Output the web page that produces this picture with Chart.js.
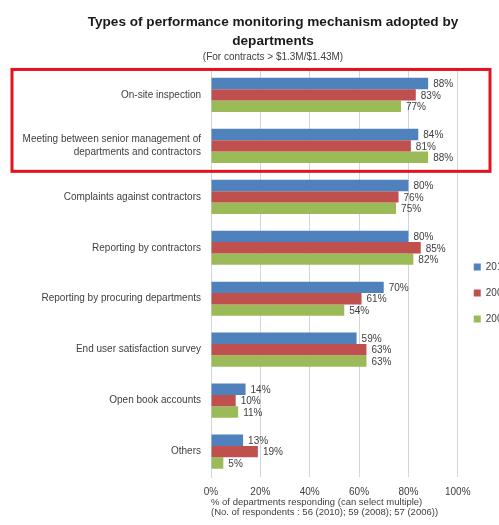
<!DOCTYPE html>
<html>
<head>
<meta charset="utf-8">
<script src="https://cdn.jsdelivr.net/npm/chart.js@4"></script>
<style>
  html, body { margin: 0; padding: 0; background: #fff; overflow: hidden; }
</style>
</head>
<body>
<canvas id="chart" width="518" height="525" style="width:518px;height:525px"></canvas>
<script>
const categories = [
  'On-site inspection',
  ['Meeting between senior management of', 'departments and contractors'],
  'Complaints against contractors',
  'Reporting by contractors',
  'Reporting by procuring departments',
  'End user satisfaction survey',
  'Open book accounts',
  'Others'
];
const years = ['2010', '2008', '2006'];
const values2010 = [88, 84, 80, 80, 70, 59, 14, 13];
const values2008 = [83, 81, 76, 85, 61, 63, 10, 19];
const values2006 = [77, 88, 75, 82, 54, 63, 11, 5];
const xTicks = [0, 20, 40, 60, 80, 100];

const txt = '#404040';
const fam = '"Liberation Sans", Arial, sans-serif';

// percent labels at the end of each bar
const barLabels = {
  id: 'barLabels',
  afterDatasetsDraw(chart) {
    const ctx = chart.ctx;
    ctx.save();
    ctx.font = '10px ' + fam;
    ctx.fillStyle = txt;
    ctx.textAlign = 'left';
    ctx.textBaseline = 'middle';
    chart.data.datasets.forEach((ds, i) => {
      chart.getDatasetMeta(i).data.forEach((bar, j) => {
        ctx.fillText(ds.data[j] + '%', bar.x + 5, bar.y + 1);
      });
    });
    ctx.restore();
  }
};

// the heading sits a little right of the canvas middle
const shiftTitles = {
  id: 'shiftTitles',
  afterLayout(chart) {
    chart.boxes.forEach(b => {
      if (b.position === 'top' && !('axis' in b)) {
        b.left += 14;
        b.right += 14;
      }
    });
  }
};

// red highlight box round the first two categories
const highlight = {
  id: 'highlight',
  afterDraw(chart) {
    const y = chart.scales.y;
    const band = (y.bottom - y.top) / categories.length;
    const top = y.getPixelForValue(0) - band / 2;
    const bottom = y.getPixelForValue(1) + band / 2;
    const ctx = chart.ctx;
    ctx.save();
    ctx.strokeStyle = '#e3121c';
    ctx.lineWidth = 3;
    ctx.strokeRect(12, top, 478, bottom - top);
    ctx.restore();
  }
};

new Chart(document.getElementById('chart'), {
  type: 'bar',
  data: {
    labels: categories,
    datasets: [
      { label: years[0], data: values2010, backgroundColor: '#4F81BD' },
      { label: years[1], data: values2008, backgroundColor: '#C0504D' },
      { label: years[2], data: values2006, backgroundColor: '#9BBB59' }
    ]
  },
  options: {
    indexAxis: 'y',
    responsive: false,
    devicePixelRatio: 1,
    animation: false,
    layout: { padding: { left: 0, right: 0, top: 0, bottom: 8 } },
    datasets: {
      bar: { barPercentage: 1, categoryPercentage: 0.67 }
    },
    scales: {
      x: {
        min: 0,
        max: 100,
        afterBuildTicks: (scale) => { scale.ticks = xTicks.map(v => ({ value: v })); },
        ticks: {
          callback: (v) => v + '%',
          color: txt,
          font: { family: fam, size: 10 },
          padding: 9
        },
        grid: { color: '#cfd6e0', drawTicks: false },
        border: { display: false },
        title: {
          display: true,
          text: ['% of departments responding (can select multiple)', '(No. of respondents : 56 (2010); 59 (2008); 57 (2006))'],
          align: 'start',
          color: txt,
          font: { family: fam, size: 9.5, lineHeight: 1.05 },
          padding: { top: -10, bottom: 0 }
        }
      },
      y: {
        afterFit: (scale) => { scale.width = 211; },
        ticks: {
          color: txt,
          font: { family: fam, size: 10, lineHeight: 1.3 },
          padding: 10
        },
        grid: { display: false, drawTicks: false },
        border: { color: '#cfd6e0' }
      }
    },
    plugins: {
      title: {
        display: true,
        text: ['Types of performance monitoring mechanism adopted by', 'departments'],
        color: '#1a1a1a',
        font: { family: fam, size: 13.6, weight: 'bold', lineHeight: 1.45 },
        padding: { top: 12, bottom: 0 }
      },
      subtitle: {
        display: true,
        text: '(For contracts > $1.3M/$1.43M)',
        color: txt,
        font: { family: fam, size: 10, lineHeight: 1.2 },
        padding: { top: 0, bottom: 6 }
      },
      legend: {
        position: 'right',
        title: {
          display: true,
          text: '',
          font: { family: fam, size: 10, lineHeight: 1.2 },
          padding: { top: 57, bottom: 0 }
        },
        labels: {
          boxWidth: 7,
          boxHeight: 7,
          padding: 16,
          color: txt,
          font: { family: fam, size: 10 }
        }
      },
      tooltip: { enabled: false }
    }
  },
  plugins: [barLabels, shiftTitles, highlight]
});
</script>
</body>
</html>
